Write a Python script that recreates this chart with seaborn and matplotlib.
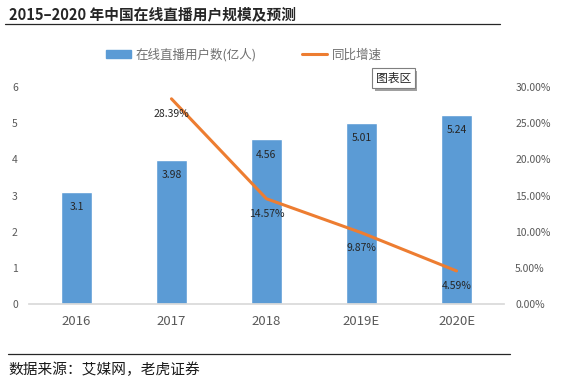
import matplotlib.pyplot as plt
import seaborn as sns
import pandas as pd
from matplotlib.ticker import PercentFormatter
from matplotlib.lines import Line2D
from matplotlib.patches import Rectangle

years = ["2016", "2017", "2018", "2019E", "2020E"]
users = [3.1, 3.98, 4.56, 5.01, 5.24]
growth_years = ["2017", "2018", "2019E", "2020E"]
growth = [28.39, 14.57, 9.87, 4.59]

bar_label = "在线直播用户数(亿人)"
line_label = "同比增速"

sns.set_theme(style="white")
plt.rcParams["font.family"] = ["Noto Sans CJK SC", "DejaVu Sans"]

blue = "#5B9BD5"
orange = "#ED7D31"
grey = "#595959"

df_bar = pd.DataFrame({"year": years, "users": users})
df_line = pd.DataFrame({"year": growth_years, "growth": growth})

fig = plt.figure(figsize=(5.67, 3.84), dpi=100)
ax = fig.add_axes([0.051, 0.208, 0.838, 0.565])

sns.barplot(data=df_bar, x="year", y="users", color=blue, width=0.32,
            saturation=1, ax=ax)
ax.set_ylim(0, 6)
ax.set_xlim(-0.5, 4.5)

# bar values inside the top of each bar
for i, v in enumerate(users):
    ax.annotate(f"{v:g}", (i, v), xytext=(0, -11), textcoords="offset points",
                ha="center", va="center", fontsize=7.5, color="#262626")

ax2 = ax.twinx()
sns.lineplot(data=df_line, x="year", y="growth", color=orange, linewidth=2.2,
             ax=ax2, legend=False)
ax2.set_ylim(0, 30)
ax2.yaxis.set_major_formatter(PercentFormatter(decimals=2))

for i, v in enumerate(growth):
    ax2.annotate(f"{v:.2f}%", (i + 1, v), xytext=(0, -11), textcoords="offset points",
                 ha="center", va="center", fontsize=7.5, color="#262626")

for a in (ax, ax2):
    for s in a.spines.values():
        s.set_visible(False)
    a.set_xlabel("")
    a.set_ylabel("")
    a.tick_params(length=0, colors=grey, labelsize=7.5)
ax.spines["bottom"].set_visible(True)
ax.spines["bottom"].set_color("#D9D9D9")
ax.tick_params(axis="x", labelsize=9.5, pad=8)
ax.tick_params(axis="y", pad=8)
ax2.tick_params(axis="y", pad=8)

handles = [Rectangle((0, 0), 1, 1, color=blue),
           Line2D([0], [0], color=orange, linewidth=2.2)]
fig.legend(handles, [bar_label, line_label], loc="center", ncol=2,
           bbox_to_anchor=(0.43, 0.857), frameon=False, fontsize=9,
           labelcolor="#6f6f6f", columnspacing=3.6, handlelength=2.0,
           handleheight=0.6, handletextpad=0.4)

# title and rules
fig.text(0.016, 0.962, "2015–2020 年中国在线直播用户规模及预测", fontsize=10.6,
         fontweight="bold", color="#262626", va="center")
fig.add_artist(Line2D([0.009, 0.882], [0.937, 0.937], color="#262626", linewidth=0.9))
fig.add_artist(Line2D([0.014, 0.9], [0.078, 0.078], color="#262626", linewidth=0.9))
fig.text(0.014, 0.036, "数据来源：艾媒网，老虎证券", fontsize=10.6, color="#1a1a1a", va="center")

# chart-area tooltip with drop shadow
fig.add_artist(Rectangle((0.662, 0.763), 0.074, 0.052, transform=fig.transFigure,
                         facecolor="#a0a0a0", edgecolor="none"))
fig.text(0.694, 0.796, "图表区", fontsize=8.5, color="#262626", va="center", ha="center",
         bbox=dict(boxstyle="square,pad=0.3", fc="white", ec="#7f7f7f", lw=0.8))

fig.savefig("out.png", dpi=100)
